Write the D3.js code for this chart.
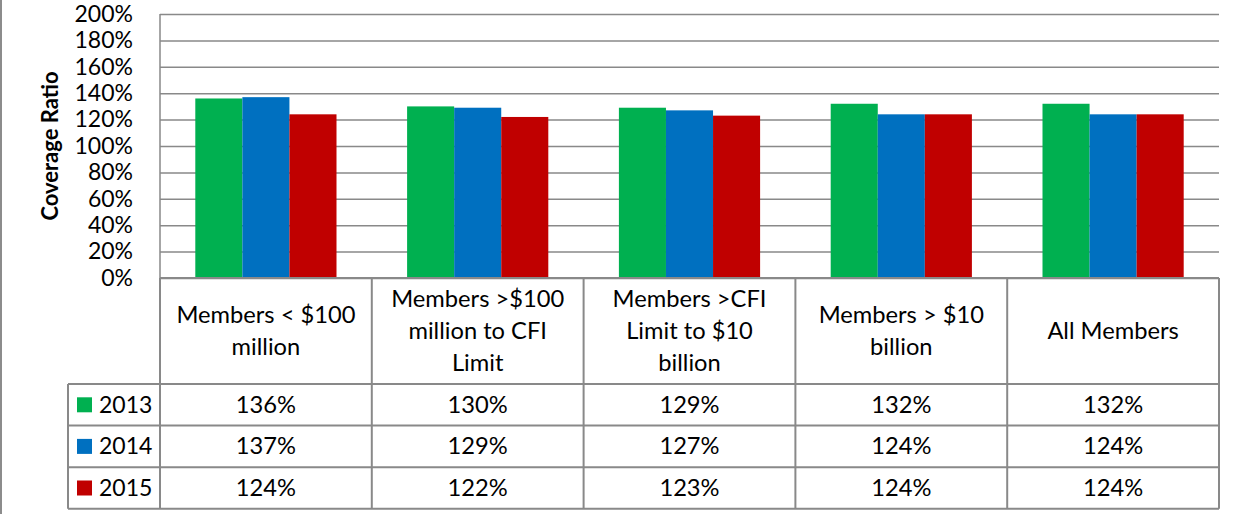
<!DOCTYPE html>
<html>
<head>
<meta charset="utf-8">
<script src="https://cdn.jsdelivr.net/npm/d3@7"></script>
<style>
  body { margin: 0; background: #fff; }
  svg { display: block; font-family: Lato, "Noto Sans", sans-serif; }
</style>
</head>
<body>
<div id="chart"></div>
<script>
const categories = ["Members < $100 million", "Members >$100 million to CFI Limit", "Members >CFI Limit to $10 billion", "Members > $10 billion", "All Members"];
const categoryLines = [
    ["Members < $100", "million"],
    ["Members >$100", "million to CFI", "Limit"],
    ["Members >CFI", "Limit to $10", "billion"],
    ["Members > $10", "billion"],
    ["All Members"]
];
const years = ["2013", "2014", "2015"];
const values2013 = [136, 130, 129, 132, 132];
const values2014 = [137, 129, 127, 124, 124];
const values2015 = [124, 122, 123, 124, 124];
const yTicks = [0, 20, 40, 60, 80, 100, 120, 140, 160, 180, 200];
const colors = ["#00B050", "#0070C0", "#C00000"];

const WIDTH = 1247;
const HEIGHT = 514;
const PLOT_LEFT = 160;
const PLOT_RIGHT = 1219;
const PLOT_TOP = 14;
const PLOT_BOTTOM = 278;
const HEADER_BOTTOM = 384;
const ROW_HEIGHT = 41.6;
const LEGEND_LEFT = 68;
const GRID_COLOR = "#898989";
const FONT_SIZE = 23;
const TABLE_FONT_SIZE = 23.7;

const series = years.map((year, i) => ({
    year: year,
    color: colors[i],
    values: [values2013, values2014, values2015][i]
}));

const svg = d3.select("#chart").append("svg")
    .attr("width", WIDTH)
    .attr("height", HEIGHT);

const x = d3.scaleBand().domain(categories).range([PLOT_LEFT, PLOT_RIGHT]);
const xSub = d3.scaleBand().domain(years).range([0, x.bandwidth()]).paddingOuter(0.75);
const y = d3.scaleLinear().domain([0, 200]).range([PLOT_BOTTOM, PLOT_TOP]);

// left frame edge
svg.append("rect")
    .attr("x", 0).attr("y", 0)
    .attr("width", 2).attr("height", HEIGHT)
    .attr("fill", "#8c8c8c");

// ==================== Gridlines + y axis =====================
const yAxis = svg.append("g")
    .attr("transform", `translate(${PLOT_LEFT},0)`)
    .call(d3.axisLeft(y).tickValues(yTicks).tickSize(-(PLOT_RIGHT - PLOT_LEFT)).tickPadding(27).tickFormat(d => d + "%"));
yAxis.select(".domain").remove();
yAxis.selectAll(".tick line").attr("stroke", GRID_COLOR).attr("stroke-width", 1.5);
yAxis.selectAll(".tick text")
    .attr("fill", "#000")
    .style("font-size", `${FONT_SIZE}px`)
    .style("font-family", "Lato, sans-serif");

svg.append("line")
    .attr("x1", PLOT_LEFT).attr("x2", PLOT_LEFT)
    .attr("y1", PLOT_TOP).attr("y2", PLOT_BOTTOM)
    .attr("stroke", GRID_COLOR).attr("stroke-width", 1.5);

svg.append("text")
    .attr("transform", `translate(58,${(PLOT_TOP + PLOT_BOTTOM) / 2}) rotate(-90)`)
    .attr("text-anchor", "middle")
    .style("font-size", "22px")
    .style("font-weight", "bold")
    .text("Coverage Ratio");

// ==================== Bars =====================
const groups = svg.selectAll(".bar-group")
    .data(series)
    .enter()
    .append("g")
    .attr("class", "bar-group")
    .attr("fill", d => d.color);

groups.selectAll("rect")
    .data(d => d.values.map((v, i) => ({year: d.year, category: categories[i], value: v})))
    .enter()
    .append("rect")
    .attr("x", d => x(d.category) + xSub(d.year))
    .attr("y", d => y(d.value))
    .attr("width", xSub.bandwidth())
    .attr("height", d => y(0) - y(d.value));

// ==================== Data table =====================
const table = svg.append("g")
    .attr("stroke", GRID_COLOR)
    .attr("stroke-width", 2)
    .attr("fill", "none");

const rowTops = years.map((yr, i) => HEADER_BOTTOM + i * ROW_HEIGHT);
const tableBottom = HEADER_BOTTOM + years.length * ROW_HEIGHT;

// horizontal lines
table.append("line")
    .attr("x1", PLOT_LEFT).attr("x2", PLOT_RIGHT)
    .attr("y1", PLOT_BOTTOM).attr("y2", PLOT_BOTTOM);
rowTops.concat([tableBottom]).forEach(ry => {
    table.append("line")
        .attr("x1", LEGEND_LEFT).attr("x2", PLOT_RIGHT)
        .attr("y1", ry).attr("y2", ry);
});
// vertical lines
table.append("line")
    .attr("x1", LEGEND_LEFT).attr("x2", LEGEND_LEFT)
    .attr("y1", HEADER_BOTTOM).attr("y2", tableBottom);
categories.forEach(c => {
    table.append("line")
        .attr("x1", x(c)).attr("x2", x(c))
        .attr("y1", PLOT_BOTTOM).attr("y2", tableBottom);
});
table.append("line")
    .attr("x1", PLOT_RIGHT).attr("x2", PLOT_RIGHT)
    .attr("y1", PLOT_BOTTOM).attr("y2", tableBottom);

// header labels
const LINE_GAP = 32;
const headerMid = (PLOT_BOTTOM + HEADER_BOTTOM) / 2;
svg.selectAll(".header-text")
    .data(categories)
    .enter()
    .append("text")
    .attr("class", "header-text")
    .attr("text-anchor", "middle")
    .style("font-size", `${TABLE_FONT_SIZE}px`)
    .each(function (c, i) {
        const lines = categoryLines[i];
        const first = headerMid + 8 - (lines.length - 1) * LINE_GAP / 2;
        d3.select(this).selectAll("tspan")
            .data(lines)
            .enter()
            .append("tspan")
            .attr("x", x(c) + x.bandwidth() / 2)
            .attr("y", (d, j) => first + j * LINE_GAP)
            .text(d => d);
    });

// legend keys + values
series.forEach((s, i) => {
    const mid = rowTops[i] + ROW_HEIGHT / 2;
    svg.append("rect")
        .attr("x", 77).attr("y", mid - 7.5)
        .attr("width", 15).attr("height", 15)
        .attr("fill", s.color);
    svg.append("text")
        .attr("x", 99).attr("y", mid + 8)
        .style("font-size", `${FONT_SIZE}px`)
        .text(s.year);
    svg.selectAll(`.val-${s.year}`)
        .data(s.values)
        .enter()
        .append("text")
        .attr("x", (d, j) => x(categories[j]) + x.bandwidth() / 2)
        .attr("y", mid + 8)
        .attr("text-anchor", "middle")
        .style("font-size", `${TABLE_FONT_SIZE}px`)
        .text(d => d + "%");
});
</script>
</body>
</html>
